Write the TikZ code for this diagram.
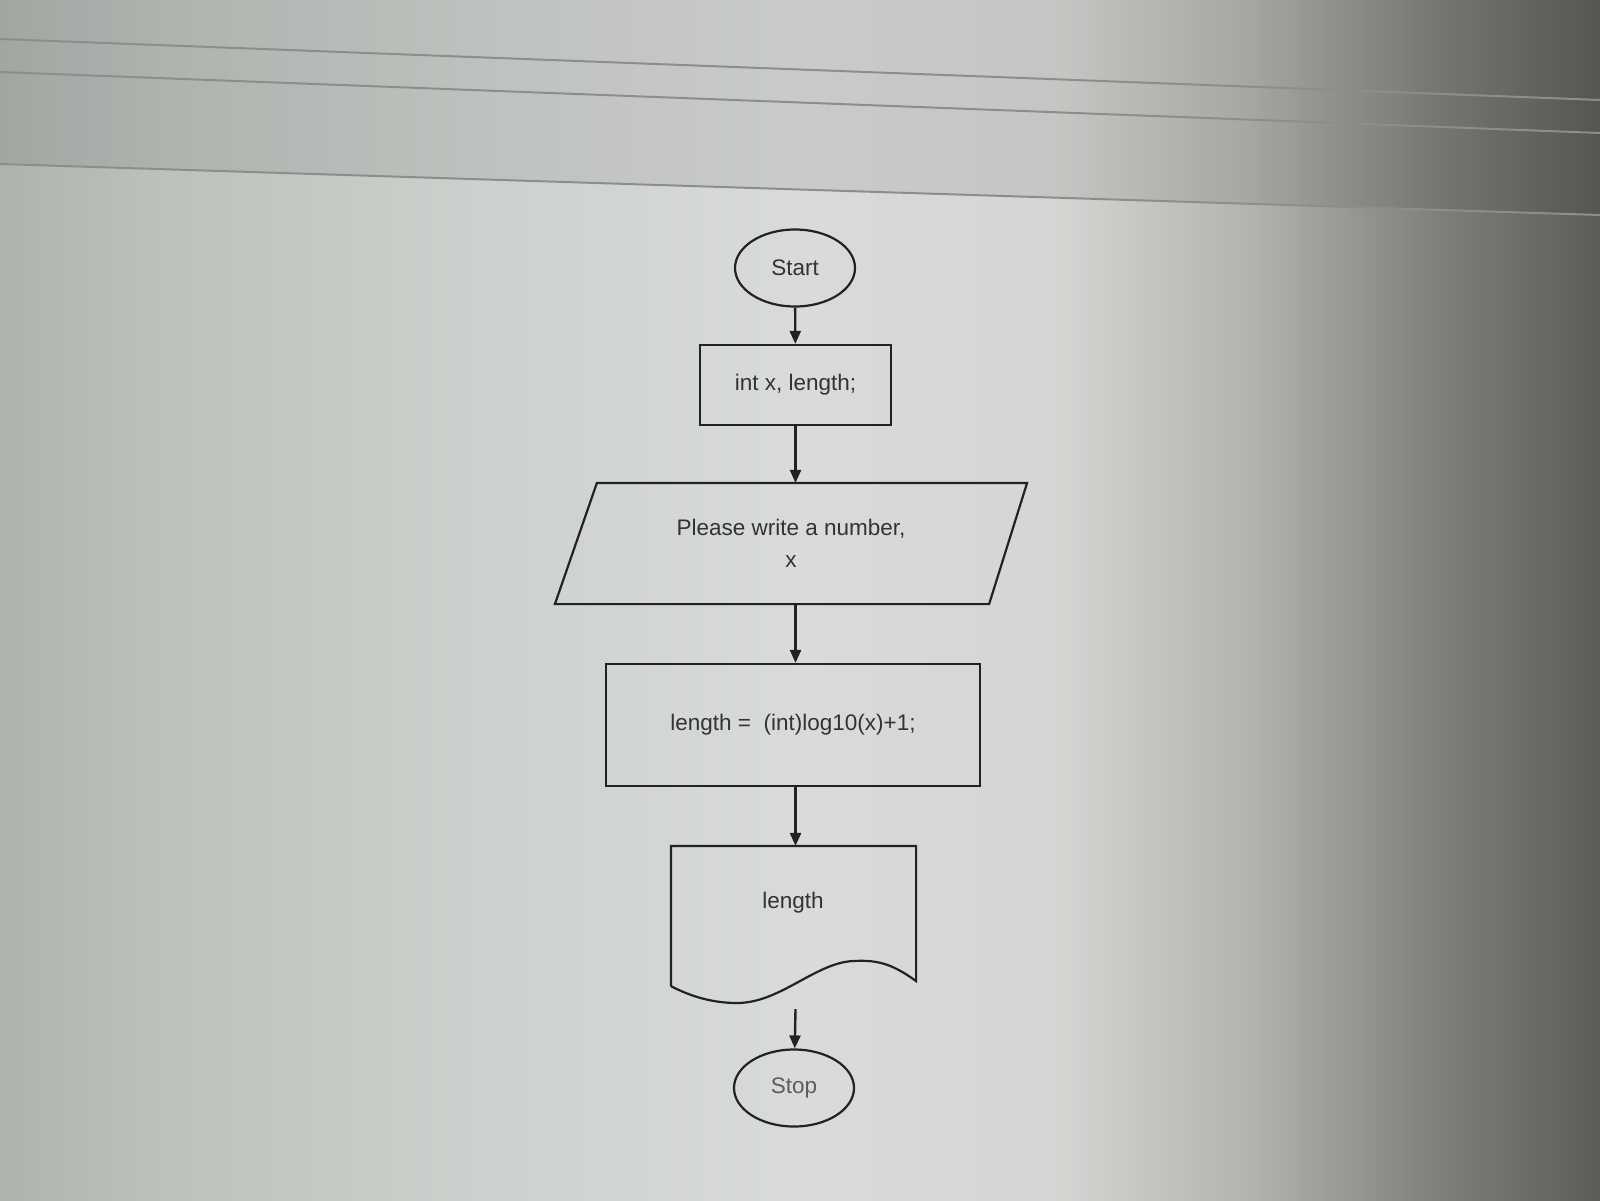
\documentclass[tikz,border=0pt]{standalone}
\usepackage{fontspec}
\setmainfont{Liberation Sans}
\usetikzlibrary{shapes.geometric,arrows.meta,calc}

% screen tones, left to right
\definecolor{bgA}{HTML}{AEB3AE}
\definecolor{bgB}{HTML}{BCC1BC}
\definecolor{bgC}{HTML}{CDD1CD}
\definecolor{bgD}{HTML}{D8DBD8}
\definecolor{bgE}{HTML}{D4D6D3}
\definecolor{bgF}{HTML}{B3B4B0}
\definecolor{bgG}{HTML}{7E7F7A}
\definecolor{bgH}{HTML}{5C5D58}
\definecolor{ink}{HTML}{222222}
\definecolor{txt}{HTML}{333333}
\definecolor{bandline}{HTML}{8C8E8C}

\pgfdeclarehorizontalshading{screenglow}{100bp}{%
  color(0bp)=(bgA); color(25bp)=(bgA); color(30bp)=(bgB);
  color(40bp)=(bgC); color(50bp)=(bgD); color(58bp)=(bgE);
  color(64bp)=(bgF); color(70bp)=(bgG); color(75bp)=(bgH);
  color(100bp)=(bgH)}

\tikzset{
  flow/.style={draw=ink, line width=2.2pt, text=txt, inner sep=0pt,
    font=\fontsize{22.5}{32}\selectfont, align=center},
  terminal/.style={flow, ellipse, minimum width=120pt, minimum height=77pt},
  process/.style={flow, rectangle},
  holder/.style={flow, draw=none, rectangle},
  link/.style={draw=ink, line width=2.4pt,
    -{Triangle[length=13pt,width=11pt]}},
  outline/.style={draw=ink, line width=2.2pt, line join=miter},
}

\begin{document}
\begin{tikzpicture}[x=1pt, y=-1pt]
  \useasboundingbox (0,0) rectangle (1600,1200);

  % photographed screen background
  \shade[shading=screenglow] (0,0) rectangle (1600,1200);
  \fill[black, opacity=0.07] (0,0) -- (1600,0) -- (1600,215) -- (0,164) -- cycle;
  \draw[bandline, line width=2pt] (0,39) -- (1600,100);
  \draw[bandline, line width=2pt] (0,72) -- (1600,133);
  \draw[bandline, line width=2pt] (0,164) -- (1600,215);

  % flowchart
  \node[terminal] (start) at (795,268) {Start};
  \node[process, minimum width=191pt, minimum height=80pt] (decl) at (795.5,385) {int x, length;};

  \node[holder, minimum width=470pt, minimum height=119pt] (input) at (791,543.5)
    {Please write a number,\\x};
  \draw[outline] ($(input.north west)+(42,0)$) -- (input.north east)
    -- ($(input.south east)+(-38,0)$) -- (input.south west) -- cycle;

  \node[process, minimum width=374pt, minimum height=122pt] (calc) at (793,725)
    {length =\ \ (int)log10(x)+1;};

  \node[holder, minimum width=243pt, minimum height=158pt] (out) at (793.5,926) {};
  \node[flow, draw=none] (outtext) at (793,903) {length};
  \draw[outline] ($(out.south west)+(0,-20)$) -- (out.north west) -- (out.north east)
    -- ($(out.south east)+(0,-25)$)
    .. controls (890,962) and (875,960) .. (853,961)
    .. controls (815,963) and (780,1003) .. (737,1003)
    .. controls (710,1003) and (688,995) .. ($(out.south west)+(0,-20)$);

  \node[terminal, text=txt!80] (stop) at (794,1088) {Stop};

  % connectors
  \draw[link] (start) -- (decl);
  \draw[link] (decl) -- (input.north -| decl.south);
  \draw[link] (input.south -| decl.south) -- (calc.north -| decl.south);
  \draw[link] (calc.south -| decl.south) -- (out.north -| decl.south);
  \draw[link] ([yshift=-3pt]out.south -| decl.south) -- (stop);
\end{tikzpicture}
\end{document}
